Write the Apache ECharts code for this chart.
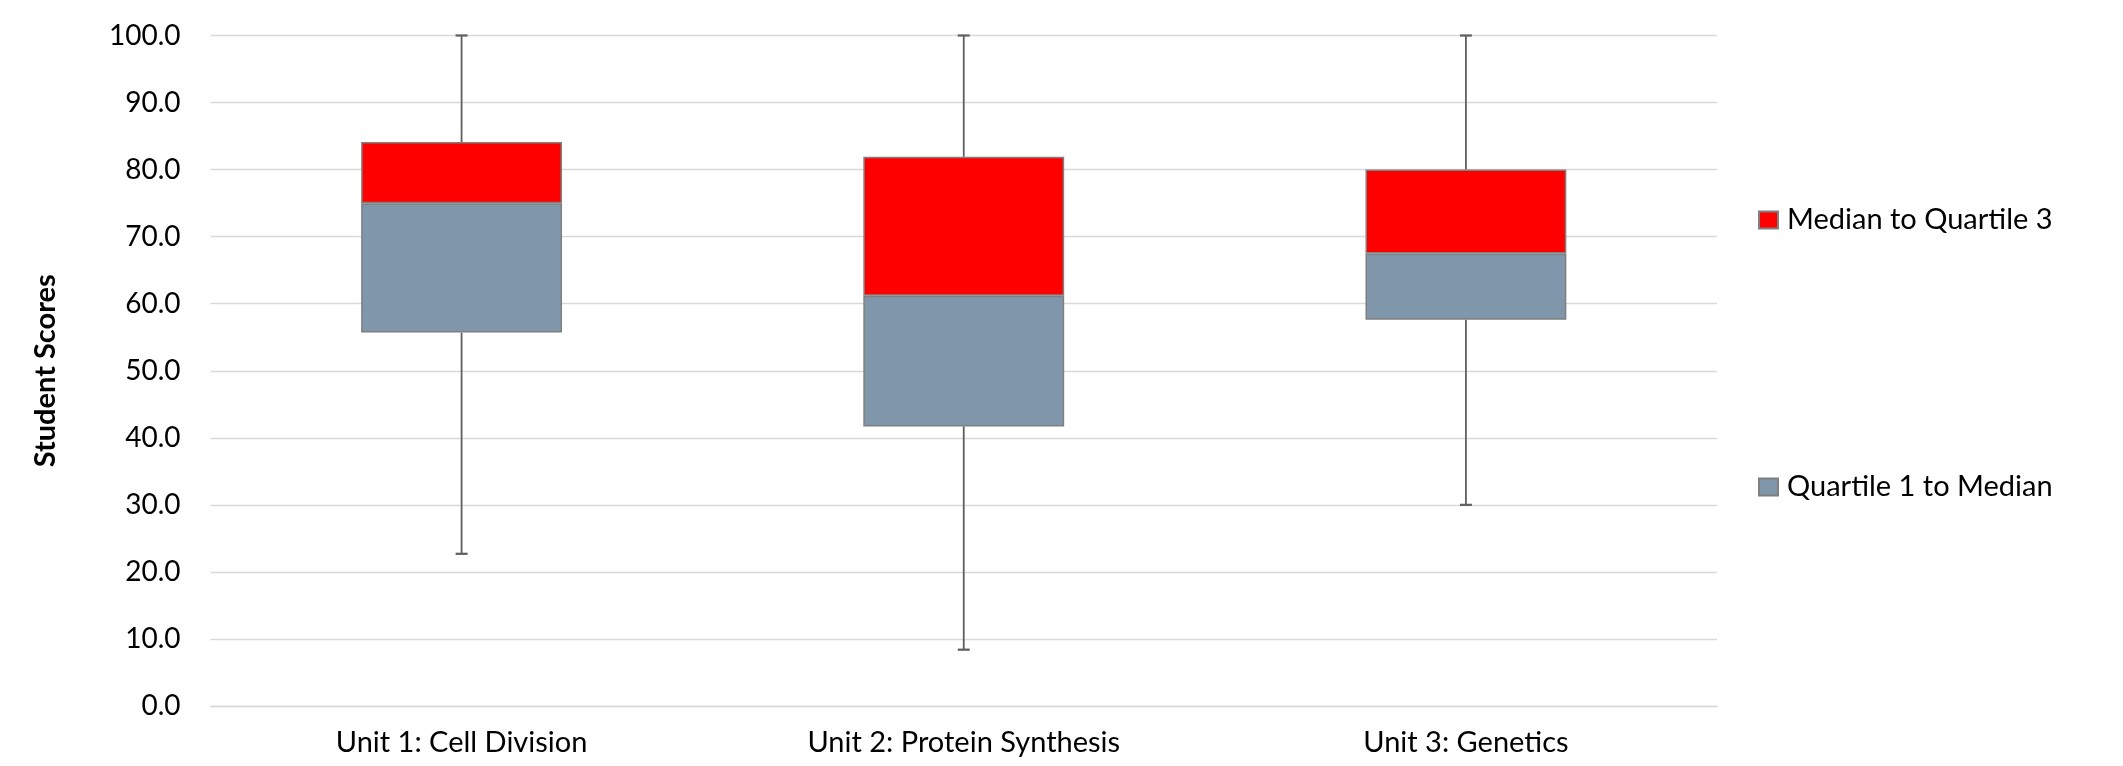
<!DOCTYPE html>
<html>
<head>
<meta charset="utf-8">
<title>Student Scores by Unit</title>
<script src="https://cdn.jsdelivr.net/npm/echarts@6/dist/echarts.min.js"></script>
<style>
  html, body { margin: 0; padding: 0; background: #ffffff; }
  #chart { width: 2123px; height: 766px; }
</style>
</head>
<body>
<div id="chart"></div>
<script>
// Five-number summaries per unit
const categories = ['Unit 1: Cell Division', 'Unit 2: Protein Synthesis', 'Unit 3: Genetics'];
const minScores    = [22.7, 8.4, 30.0];
const quartile1    = [55.7, 41.7, 57.6];
const medianScores = [75.0, 61.2, 67.5];
const quartile3    = [84.1, 81.9, 80.0];
const maxScores    = [100.0, 100.0, 100.0];
const yTicks = { min: 0, max: 100, interval: 10 };

const FONT = 'Lato, "Liberation Sans", sans-serif';
const GRID_COLOR = '#d9d9d9';
const BOX_BORDER = '#7f7f7f';
const WHISKER = '#5f5f5f';

// Stacked segments: hidden base up to Q1, then Q1→median, then median→Q3
const baseSeg  = quartile1.slice();
const lowerSeg = medianScores.map((m, i) => +(m - quartile1[i]).toFixed(2));
const upperSeg = quartile3.map((q, i) => +(q - medianScores[i]).toFixed(2));
const whiskerData = categories.map((c, i) => [i, minScores[i], quartile1[i], quartile3[i], maxScores[i]]);

const chart = echarts.init(document.getElementById('chart'), null, { renderer: 'canvas' });

function renderWhisker(params, api) {
  const idx = api.value(0);
  const pMin = api.coord([idx, api.value(1)]);
  const pQ1 = api.coord([idx, api.value(2)]);
  const pQ3 = api.coord([idx, api.value(3)]);
  const pMax = api.coord([idx, api.value(4)]);
  const cap = 6;
  const style = { stroke: WHISKER, lineWidth: 1.8 };
  const capStyle = { stroke: WHISKER, lineWidth: 2.2 };
  return {
    type: 'group',
    children: [
      { type: 'line', shape: { x1: pQ3[0], y1: pQ3[1], x2: pMax[0], y2: pMax[1] }, style },
      { type: 'line', shape: { x1: pMax[0] - cap, y1: pMax[1], x2: pMax[0] + cap, y2: pMax[1] }, style: capStyle },
      { type: 'line', shape: { x1: pQ1[0], y1: pQ1[1], x2: pMin[0], y2: pMin[1] }, style },
      { type: 'line', shape: { x1: pMin[0] - cap, y1: pMin[1], x2: pMin[0] + cap, y2: pMin[1] }, style: capStyle }
    ]
  };
}

const legendText = { fontFamily: FONT, fontSize: 29, color: '#000000', lineHeight: 30, padding: [0, 0, 0, 4] };

chart.setOption({
  animation: false,
  backgroundColor: '#ffffff',
  textStyle: { fontFamily: FONT },
  grid: { left: 210.5, right: 406, top: 35.5, bottom: 60, containLabel: false },
  legend: [
    {
      data: ['Median to Quartile 3'],
      orient: 'vertical', left: 1753, top: 200,
      itemWidth: 19, itemHeight: 17, icon: 'rect',
      textStyle: legendText, selectedMode: false
    },
    {
      data: ['Quartile 1 to Median'],
      orient: 'vertical', left: 1753, top: 467,
      itemWidth: 19, itemHeight: 17, icon: 'rect',
      textStyle: legendText, selectedMode: false
    }
  ],
  xAxis: {
    type: 'category',
    data: categories,
    axisLine: { show: true, lineStyle: { color: GRID_COLOR, width: 1.3 } },
    axisTick: { show: false },
    axisLabel: { fontFamily: FONT, fontSize: 29, color: '#000000', margin: 22 }
  },
  yAxis: {
    type: 'value',
    min: yTicks.min, max: yTicks.max, interval: yTicks.interval,
    name: 'Student Scores',
    nameLocation: 'middle',
    nameGap: 150,
    nameTextStyle: { fontFamily: FONT, fontSize: 29, fontWeight: 'bold', color: '#000000' },
    axisLine: { show: false },
    axisTick: { show: false },
    splitLine: { lineStyle: { color: GRID_COLOR, width: 1.3 } },
    axisLabel: {
      fontFamily: FONT, fontSize: 28, color: '#000000', margin: 30,
      formatter: v => v.toFixed(1)
    }
  },
  series: [
    {
      name: 'base', type: 'bar', stack: 'box', barWidth: '40%',
      data: baseSeg, silent: true,
      itemStyle: { color: 'rgba(0,0,0,0)', borderWidth: 0 }
    },
    {
      name: 'Quartile 1 to Median', type: 'bar', stack: 'box', barWidth: '40%',
      data: lowerSeg,
      itemStyle: { color: '#8096ab', borderColor: BOX_BORDER, borderWidth: 1.5 }
    },
    {
      name: 'Median to Quartile 3', type: 'bar', stack: 'box', barWidth: '40%',
      data: upperSeg,
      itemStyle: { color: '#ff0000', borderColor: BOX_BORDER, borderWidth: 1.5 }
    },
    {
      name: 'whiskers', type: 'custom',
      renderItem: renderWhisker,
      data: whiskerData,
      encode: { x: 0, y: [1, 2, 3, 4] },
      z: 1, silent: true
    }
  ]
});
</script>
</body>
</html>
